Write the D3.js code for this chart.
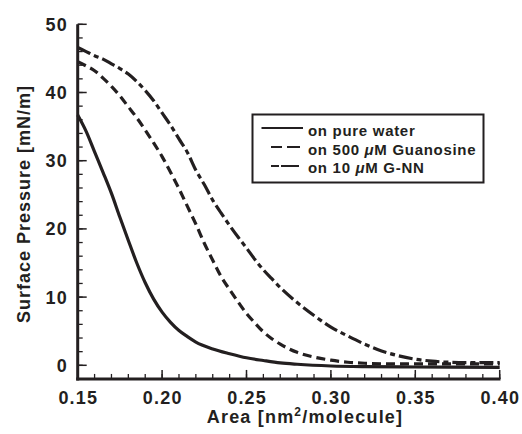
<!DOCTYPE html>
<html>
<head>
<meta charset="utf-8">
<script src="https://cdn.jsdelivr.net/npm/d3@7"></script>
<style>
  body { margin: 0; background: #fff; }
  svg text { font-family: Arial, "Liberation Sans", Helvetica, sans-serif; font-weight: bold; fill: #231f20; }
</style>
</head>
<body>
<svg id="chart" width="522" height="434"></svg>
<script>
// ---- data ----
const xTicks = [0.15, 0.20, 0.25, 0.30, 0.35, 0.40];
const yTicks = [0, 10, 20, 30, 40, 50];
const seriesNames = ["on pure water", "on 500 \u03bcM Guanosine", "on 10 \u03bcM G-NN"];

const waterArea = [0.150,0.155,0.160,0.165,0.170,0.175,0.180,0.185,0.190,0.195,0.200,0.205,0.210,0.215,0.220,0.230,0.240,0.250,0.260,0.270,0.280,0.300,0.320,0.350,0.400];
const waterPressure = [36.7,34.3,31.3,28.3,25.2,21.7,18.3,15.0,12.1,9.7,7.8,6.3,5.1,4.2,3.4,2.4,1.7,1.1,0.7,0.35,0.15,-0.1,-0.2,-0.25,-0.3];

const guanArea = [0.150,0.155,0.160,0.165,0.170,0.175,0.180,0.185,0.190,0.195,0.200,0.205,0.210,0.215,0.220,0.225,0.230,0.235,0.240,0.245,0.250,0.255,0.260,0.265,0.270,0.280,0.290,0.300,0.310,0.320,0.340,0.370,0.400];
const guanPressure = [44.5,43.9,43.2,42.1,40.9,39.5,37.9,36.3,34.5,32.6,30.6,28.3,25.9,23.3,20.7,17.9,15.4,13.0,11.1,9.3,7.6,6.2,4.9,3.9,3.1,1.9,1.2,0.75,0.45,0.3,0.2,0.2,0.2];

const gnnArea = [0.150,0.155,0.160,0.165,0.170,0.175,0.180,0.185,0.190,0.195,0.200,0.205,0.210,0.215,0.220,0.225,0.230,0.235,0.240,0.245,0.250,0.255,0.260,0.265,0.270,0.280,0.290,0.300,0.310,0.320,0.330,0.340,0.350,0.360,0.370,0.380,0.400];
const gnnPressure = [46.6,46.0,45.4,44.9,44.2,43.5,42.7,41.6,40.3,38.8,37.0,35.2,33.2,31.2,28.6,26.5,24.2,22.3,20.5,18.8,17.2,15.5,14.0,12.7,11.4,9.2,7.3,5.6,4.3,3.1,2.1,1.4,0.9,0.6,0.45,0.4,0.4];

// ---- layout ----
const svg = d3.select("#chart");
const col = "#231f20";
const x = d3.scaleLinear().domain([0.15, 0.40]).range([77.7, 499.7]);
const y = d3.scaleLinear().domain([0, 50]).range([365.3, 24.3]);
const yMin = -2;

const xMinor = d3.range(0.15, 0.4001, 0.01);
const yMinor = d3.range(-2, 50.001, 2);

const g = svg.append("g");

// ticks (pointing into the plot)
g.selectAll(".xminor").data(xMinor).join("line")
  .attr("x1", d => x(d)).attr("x2", d => x(d))
  .attr("y1", y(yMin)).attr("y2", y(yMin) - 5)
  .attr("stroke", col).attr("stroke-width", 1.3);
g.selectAll(".xmajor").data(xTicks).join("line")
  .attr("x1", d => x(d)).attr("x2", d => x(d))
  .attr("y1", y(yMin)).attr("y2", y(yMin) - 9)
  .attr("stroke", col).attr("stroke-width", 1.5);
g.selectAll(".yminor").data(yMinor).join("line")
  .attr("x1", x(0.15)).attr("x2", x(0.15) + 5)
  .attr("y1", d => y(d)).attr("y2", d => y(d))
  .attr("stroke", col).attr("stroke-width", 1.3);
g.selectAll(".ymajor").data(yTicks).join("line")
  .attr("x1", x(0.15)).attr("x2", x(0.15) + 9)
  .attr("y1", d => y(d)).attr("y2", d => y(d))
  .attr("stroke", col).attr("stroke-width", 1.5);

// axis lines
g.append("line").attr("x1", x(0.15)).attr("x2", x(0.15))
  .attr("y1", y(50)).attr("y2", y(yMin) + 1.5)
  .attr("stroke", col).attr("stroke-width", 3);
g.append("line").attr("x1", x(0.15) - 1.5).attr("x2", x(0.40) + 0.8)
  .attr("y1", y(yMin)).attr("y2", y(yMin))
  .attr("stroke", col).attr("stroke-width", 3);

// tick labels
g.selectAll(".xl").data(xTicks).join("text")
  .attr("x", d => x(d) + 0.6).attr("y", 404)
  .attr("text-anchor", "middle").attr("font-size", 18)
  .attr("letter-spacing", 1.2)
  .text(d => d3.format(".2f")(d));
g.selectAll(".yl").data(yTicks).join("text")
  .attr("x", 68).attr("y", d => y(d) + 6.5)
  .attr("text-anchor", "end").attr("font-size", 18)
  .attr("letter-spacing", 1.2)
  .text(d => d);

// axis titles
const xt = g.append("text").attr("x", 305).attr("y", 423)
  .attr("text-anchor", "middle").attr("font-size", 18)
  .attr("letter-spacing", 1.2);
xt.append("tspan").text("Area [nm");
xt.append("tspan").attr("dy", -7).attr("font-size", 12).text("2");
xt.append("tspan").attr("dy", 7).text("/molecule]");

g.append("text").attr("transform", "translate(30,204) rotate(-90)")
  .attr("text-anchor", "middle").attr("font-size", 18)
  .attr("letter-spacing", 1)
  .text("Surface Pressure [mN/m]");

// curves
const line = d3.line().x(d => x(d[0])).y(d => y(d[1])).curve(d3.curveMonotoneX);
const series = [
  { a: waterArea, p: waterPressure, dash: null },
  { a: guanArea, p: guanPressure, dash: "9,5" },
  { a: gnnArea, p: gnnPressure, dash: "14,4,5,4" }
];
series.forEach(s => {
  const pts = s.a.map((v, i) => [v, s.p[i]]);
  g.append("path").attr("d", line(pts))
    .attr("fill", "none").attr("stroke", col).attr("stroke-width", 3.2)
    .attr("stroke-dasharray", s.dash);
});

// legend
const lg = g.append("g");
lg.append("rect").attr("x", 252.5).attr("y", 114.5).attr("width", 231).attr("height", 68)
  .attr("fill", "#fff").attr("stroke", col).attr("stroke-width", 2);
const lineY = [128, 147, 166];
const textY = [136, 155, 173];
const legendDash = [null, "11,5,13", "8,2,18"];
seriesNames.forEach((n, i) => {
  const x0 = i === 0 ? 261.5 : 271;
  lg.append("line").attr("x1", x0).attr("x2", 303).attr("y1", lineY[i]).attr("y2", lineY[i])
    .attr("stroke", col).attr("stroke-width", 2.2).attr("stroke-dasharray", legendDash[i]);
  const t = lg.append("text").attr("x", 308).attr("y", textY[i]).attr("font-size", 15)
    .attr("letter-spacing", 0.7);
  const parts = n.split("\u03bc");
  t.append("tspan").text(parts[0]);
  if (parts.length > 1) {
    t.append("tspan").attr("font-style", "italic").text("\u03bc");
    t.append("tspan").text(parts[1]);
  }
});
</script>
</body>
</html>
